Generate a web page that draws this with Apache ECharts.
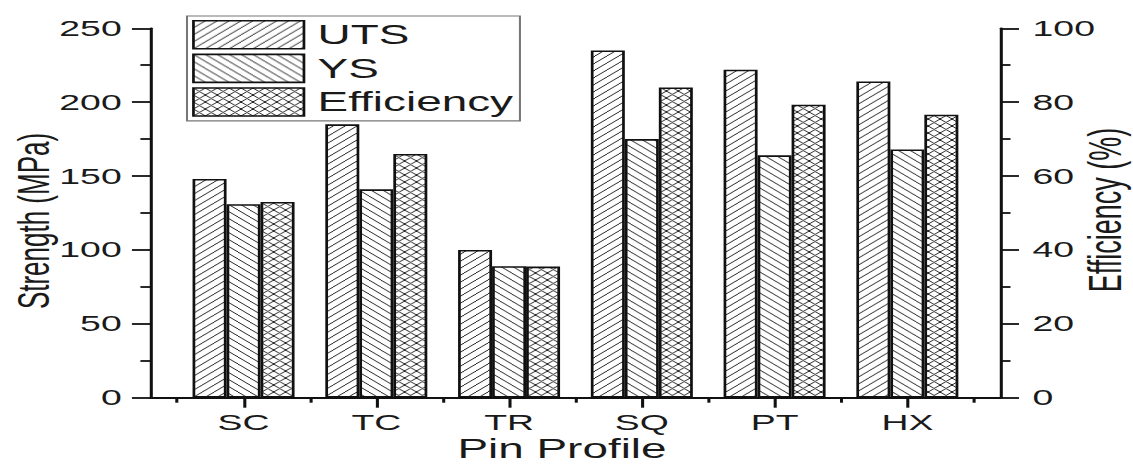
<!DOCTYPE html>
<html><head><meta charset="utf-8">
<script src="https://cdn.jsdelivr.net/npm/echarts@6/dist/echarts.min.js"></script>
<style>
html,body{margin:0;padding:0;background:#fff;overflow:hidden;width:1133px;height:464px;}
#chart{width:666.5px;height:464px;transform:scaleX(1.7);transform-origin:0 0;}
</style></head><body><div id="chart"></div>
<script>
const categories = ['SC', 'TC', 'TR', 'SQ', 'PT', 'HX'];
const utsValues = [148, 185, 100, 235, 222, 214];
const ysValues = [131, 141, 89, 175, 164, 168];
const efficiencyValues = [53, 66, 35.5, 84, 79.3, 76.6];
const strengthTicks = [0, 50, 100, 150, 200, 250];
const efficiencyTicks = [0, 20, 40, 60, 80, 100];
const xTitle = 'Pin Profile';
const leftTitle = 'Strength (MPa)';
const rightTitle = 'Efficiency (%)';

const FONT = 'Liberation Sans, Arial, sans-serif';
const INK = '#1a1a1a';

function hatch(kind) {
  const P = 7, c = document.createElement('canvas');
  c.width = P; c.height = P;
  const g = c.getContext('2d');
  g.fillStyle = '#fff'; g.fillRect(0, 0, P, P);
  g.strokeStyle = '#2a2a2a'; g.lineWidth = 1;
  const fwd = () => { for (let k = -1; k <= 1; k++) { g.beginPath(); g.moveTo(k * P, P); g.lineTo(k * P + P, 0); g.stroke(); } };
  const bwd = () => { for (let k = -1; k <= 1; k++) { g.beginPath(); g.moveTo(k * P, 0); g.lineTo(k * P + P, P); g.stroke(); } };
  if (kind === 'f') fwd(); else if (kind === 'b') bwd(); else { fwd(); bwd(); }
  return { image: c, repeat: 'repeat' };
}

const lineStyle = { color: '#111', width: 1.8 };
const majorX = categories.map((c, i) => i + 1);
const minorX = [0.5].concat(categories.map((c, i) => i + 1.5));

function barSeries(name, values, yIdx, pat) {
  return {
    name, type: 'bar', xAxisIndex: 0, yAxisIndex: yIdx,
    barWidth: 20, barGap: '0%',
    data: values.map((v, i) => [i + 1, v]),
    itemStyle: { color: hatch(pat), borderColor: '#111', borderWidth: 1.6 },
    emphasis: { disabled: true }
  };
}

function titleText(text, x, y, size, rot) {
  return {
    type: 'text', x, y, rotation: rot, silent: true,
    style: { text, fontSize: size, fontFamily: FONT, fill: INK, align: 'center', verticalAlign: 'middle' }
  };
}

const chart = echarts.init(document.getElementById('chart'), null, { renderer: 'svg' });
chart.setOption({
  animation: false,
  backgroundColor: '#fff',
  textStyle: { fontFamily: FONT, color: INK },
  grid: { left: 88.6, right: 78.6, top: 28.3, bottom: 66.3, containLabel: false, outerBoundsMode: 'none' },
  legend: {
    orient: 'vertical', left: 110, top: 16,
    itemWidth: 65, itemHeight: 28, itemGap: 4,
    padding: [4, 4, 4, 3],
    borderColor: '#777', borderWidth: 1.2, backgroundColor: '#fff',
    icon: 'rect', selectedMode: false,
    itemStyle: { borderColor: '#111', borderWidth: 1.6 },
    textStyle: { fontSize: 27, color: INK, fontFamily: FONT, padding: [0, 0, 0, 3] },
    data: ['UTS', 'YS', 'Efficiency']
  },
  graphic: [
    titleText(xTitle, 330.6, 449, 27, 0),
    titleText(leftTitle, 19.6, 221, 26, Math.PI / 2),
    titleText(rightTitle, 650, 210, 27, Math.PI / 2)
  ],
  xAxis: [{
    type: 'value', min: 0.3, max: 6.7, position: 'bottom',
    axisLine: { show: true, onZero: false, lineStyle },
    axisTick: { show: true, customValues: majorX, length: 10, lineStyle },
    axisLabel: { customValues: majorX, formatter: v => categories[Math.round(v) - 1], margin: 14, fontSize: 22, color: INK, fontFamily: FONT },
    splitLine: { show: false }
  }, {
    type: 'value', min: 0.3, max: 6.7, position: 'bottom',
    axisLine: { show: false },
    axisTick: { show: true, customValues: minorX, length: 5, lineStyle },
    axisLabel: { show: false },
    splitLine: { show: false }
  }],
  yAxis: [{
    type: 'value', position: 'left',
    min: strengthTicks[0], max: strengthTicks[strengthTicks.length - 1], interval: strengthTicks[1] - strengthTicks[0],
    axisLine: { show: true, lineStyle },
    axisTick: { show: true, length: 11, lineStyle },
    minorTick: { show: true, splitNumber: 2, length: 6, lineStyle },
    axisLabel: { margin: 17, fontSize: 22, color: INK, fontFamily: FONT },
    splitLine: { show: false }
  }, {
    type: 'value', position: 'right',
    min: efficiencyTicks[0], max: efficiencyTicks[efficiencyTicks.length - 1], interval: efficiencyTicks[1] - efficiencyTicks[0],
    axisLine: { show: true, lineStyle },
    axisTick: { show: true, length: 11, lineStyle },
    minorTick: { show: true, splitNumber: 2, length: 6, lineStyle },
    axisLabel: { margin: 19, fontSize: 22, color: INK, fontFamily: FONT },
    splitLine: { show: false }
  }],
  series: [
    barSeries('UTS', utsValues, 0, 'f'),
    barSeries('YS', ysValues, 0, 'b'),
    barSeries('Efficiency', efficiencyValues, 1, 'x')
  ]
});
</script></body></html>
